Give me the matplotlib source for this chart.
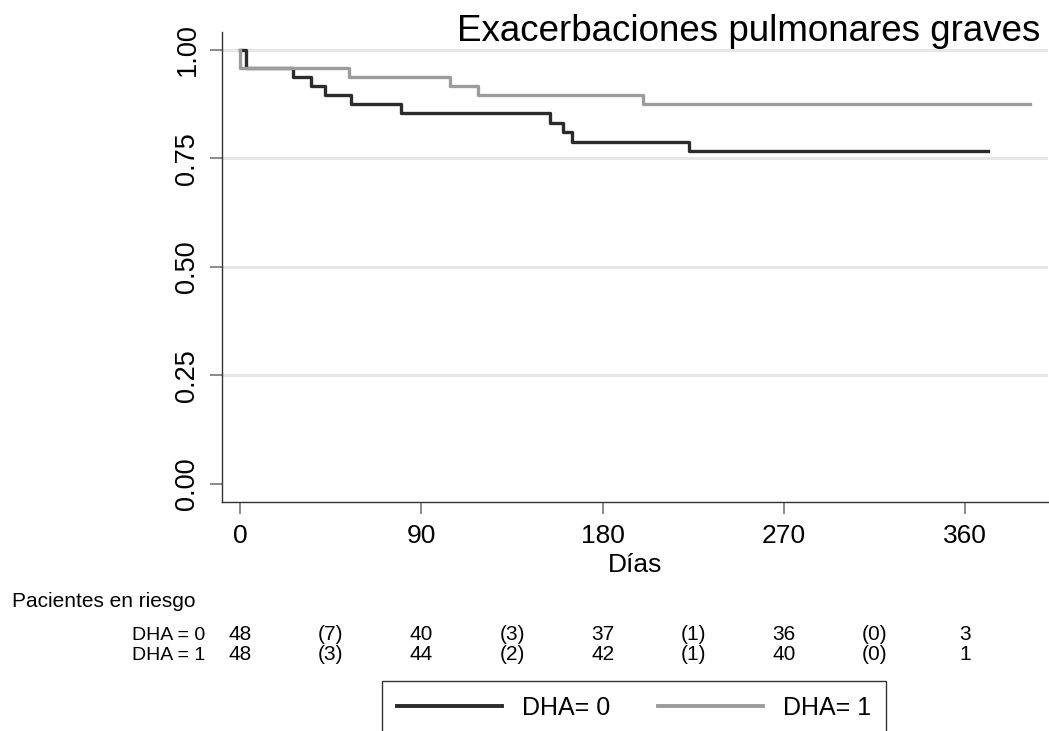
import numpy as np
import matplotlib
matplotlib.use("Agg")
import matplotlib.pyplot as plt
from matplotlib import transforms

plt.rcParams['font.family'] = ['Liberation Sans', 'DejaVu Sans']

# Kaplan-Meier steps
t_dha0 = [0, 3, 26, 35, 42, 55, 80, 154, 160.5, 164.5, 223, 371]
s_dha0 = [1.0, 0.958, 0.9375, 0.917, 0.896, 0.875, 0.854, 0.832, 0.810, 0.788, 0.766, 0.766]
t_dha1 = [0, 0, 54, 104, 118, 200, 392]
s_dha1 = [1.0, 0.958, 0.9375, 0.916, 0.895, 0.874, 0.874]

# number at risk table
risk_times = [0, 90, 180, 270, 360]
risk_dha0 = [48, 40, 37, 36, 3]
risk_dha1 = [48, 44, 42, 40, 1]
event_times = [45, 135, 225, 315]
events_dha0 = [7, 3, 1, 0]
events_dha1 = [3, 2, 1, 0]

xticks = [0, 90, 180, 270, 360]
yticks = [0.0, 0.25, 0.5, 0.75, 1.0]

W, H = 1049, 731
fig = plt.figure(figsize=(W/100, H/100), dpi=100)
ax = fig.add_axes([222/W, (H-502)/H, 826/W, 470/H])

for g in [0.25, 0.5, 0.75, 1.0]:
    ax.axhline(g, color='#e6e6e6', lw=2.2, zorder=0)

l0, = ax.step(t_dha0, s_dha0, where='post', color='#2b2b2b', lw=2.4, label='DHA= 0')
l1, = ax.step(t_dha1, s_dha1, where='post', color='#9c9c9c', lw=2.4, label='DHA= 1')

ax.set_xlim(-9, 401)
ax.set_ylim(-0.0414, 1.0403)
ax.set_xticks(xticks)
ax.set_yticks(yticks)
ax.set_yticklabels(['%.2f' % v for v in yticks])
ax.tick_params(axis='both', direction='out', length=8.5, width=1.2, color='#777777',
               labelsize=19, pad=7)
ax.tick_params(axis='y', labelsize=19.5)
for lab in ax.get_yticklabels():
    lab.set_rotation(90)
    lab.set_va('center')
for sp in ['top', 'right']:
    ax.spines[sp].set_visible(False)
for sp in ['left', 'bottom']:
    ax.spines[sp].set_color('#333333')
    ax.spines[sp].set_linewidth(1.0)

ax.set_xlabel('Días', fontsize=19, labelpad=4)

fig.text(1040/W, 1 - 41/H, 'Exacerbaciones pulmonares graves', fontsize=26.5,
         ha='right', va='baseline')

# risk table
tr = transforms.blended_transform_factory(ax.transData, fig.transFigure)
fs = 15
fig.text(12/W, 1 - 607/H, 'Pacientes en riesgo', fontsize=fs, ha='left', va='baseline')
rows = [(640, 'DHA = 0', risk_dha0, events_dha0), (660, 'DHA = 1', risk_dha1, events_dha1)]
for yb, name, nrisk, nev in rows:
    yf = 1 - yb/H
    fig.text(205/W, yf, name, fontsize=fs - 1, ha='right', va='baseline')
    for tt, n in zip(risk_times, nrisk):
        ax.text(tt, yf, str(n), transform=tr, fontsize=fs, ha='center', va='baseline')
    for tt, n in zip(event_times, nev):
        ax.text(tt, yf, '(%d)' % n, transform=tr, fontsize=fs, ha='center', va='baseline')

leg = fig.legend(handles=[l0, l1], loc='upper center', bbox_to_anchor=(634/W, 1 - 681/H),
                 ncol=2, fontsize=18, frameon=True, fancybox=False, edgecolor='black',
                 handlelength=4.2, handletextpad=0.8, columnspacing=1.9, borderpad=0.6,
                 borderaxespad=0)
leg.get_frame().set_linewidth(1.0)
for h in leg.get_lines():
    h.set_linewidth(2.8)

fig.savefig('out.png', dpi=100)
